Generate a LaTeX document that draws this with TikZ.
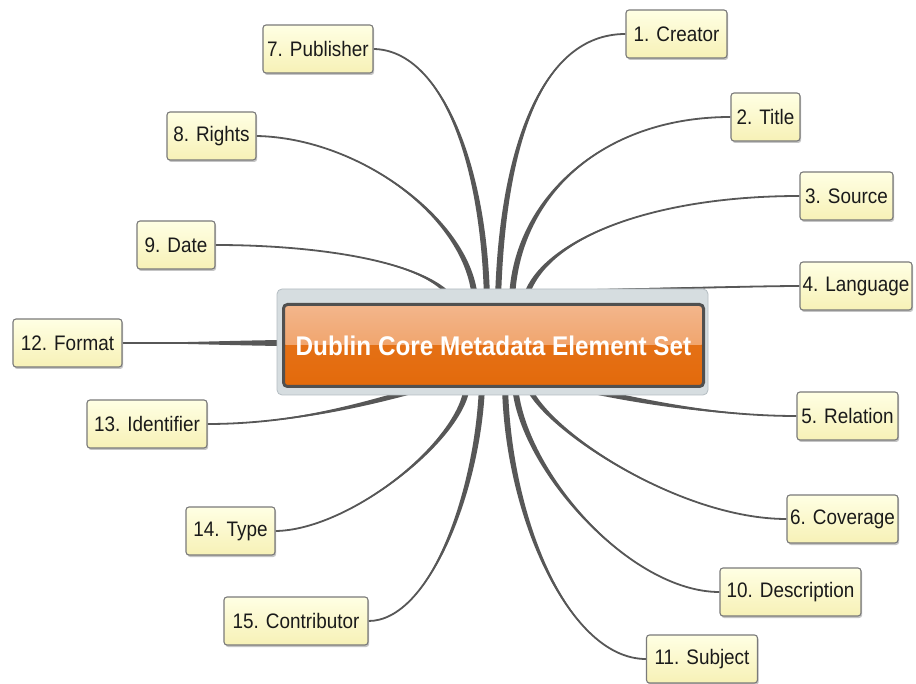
\documentclass[tikz,border=0pt]{standalone}
\usepackage{fontspec}
\setmainfont{Liberation Sans}[FakeStretch=0.9]
\usetikzlibrary{calc,shadows}
\pgfdeclarelayer{paper}
\pgfdeclarelayer{spokes}
\pgfsetlayers{paper,spokes,main}

\definecolor{spokecol}{HTML}{575757}
\definecolor{leaftop}{HTML}{FFFFE4}
\definecolor{leafbot}{HTML}{F7F1B6}
\definecolor{leafedge}{HTML}{7A7A7A}
\definecolor{leaftext}{HTML}{1A1A1A}
\definecolor{framefill}{HTML}{D6DDE0}
\definecolor{frameedge}{HTML}{B4BDC2}
\definecolor{hubrim}{HTML}{505050}
\definecolor{hublow}{HTML}{E36A0B}
\definecolor{hubtop}{HTML}{F3B68C}
\definecolor{hubmid}{HTML}{EE944F}

% tapered branch: #1 hub point, #2 hub-side control, #3 leaf-side control,
% #4 leaf anchor, #5 half-width of the branch at the hub
\newcommand\drawspoke[5]{%
  \fill[spokecol] (#4) .. controls (#3) and ($(#2)+#5$) .. ($(#1)+#5$)
    -- ($(#1)-#5$) .. controls ($(#2)-#5$) and (#3) .. (#4) -- cycle;
  \draw[spokecol, line width=1.8pt] (#4) .. controls (#3) and (#2) .. (#1);
}

\tikzset{
  leaf/.style={draw=leafedge, line width=1.1pt, rounded corners=3pt,
    top color=leaftop, bottom color=leafbot, text=leaftext,
    minimum height=48pt, inner xsep=0pt,
    font=\fontsize{21}{24}\selectfont,
    drop shadow={shadow xshift=1.2pt, shadow yshift=-2pt,
      fill=black!45, opacity=0.5}},
  framebox/.style={fill=framefill, draw=frameedge, line width=0.8pt,
    rounded corners=5pt, minimum width=431pt, minimum height=106pt},
  hubbox/.style={fill=hublow, draw=hubrim, line width=3pt,
    rounded corners=4pt, minimum width=420pt, minimum height=82pt,
    text=white, font=\bfseries\fontsize{27}{30}\selectfont,
    path picture={
      \fill[top color=hubtop, bottom color=hubmid]
        (path picture bounding box.north west) rectangle
        (path picture bounding box.east);
      \fill[top color=hublow!85!hubmid, bottom color=hublow]
        (path picture bounding box.west) rectangle
        (path picture bounding box.south east);}}
}

\begin{document}
\begin{tikzpicture}[x=1pt, y=-1pt]
\useasboundingbox (0,0) rectangle (916,684);
\begin{pgfonlayer}{paper}
  \fill[white] (0,0) rectangle (916,684);
\end{pgfonlayer}

% central topic
\node[framebox] (frame) at (492.5,342) {};
\node[hubbox] (hub) at (493.5,345.5) {Dublin Core Metadata Element Set};

% elements, right side
\node[leaf, minimum width=101pt] (cre) at (676.5,34)  {1. Creator};
\node[leaf, minimum width=69pt]  (tit) at (765.5,117) {2. Title};
\node[leaf, minimum width=93pt]  (src) at (846.5,196) {3. Source};
\node[leaf, minimum width=112pt] (lan) at (856,286)   {4. Language};
\node[leaf, minimum width=101pt] (rel) at (847.5,416) {5. Relation};
\node[leaf, minimum width=111pt] (cov) at (842.5,519) {6. Coverage};
\node[leaf, minimum width=141pt] (des) at (790.5,592) {10. Description};
\node[leaf, minimum width=111pt] (sub) at (702,659)   {11. Subject};

% elements, left side
\node[leaf, minimum width=110pt] (pub) at (318,49)    {7. Publisher};
\node[leaf, minimum width=89pt]  (rig) at (211.5,136) {8. Rights};
\node[leaf, minimum width=78pt]  (dat) at (176,245)   {9. Date};
\node[leaf, minimum width=109pt] (fmt) at (67.5,343)  {12. Format};
\node[leaf, minimum width=120pt] (ide) at (147,424)   {13. Identifier};
\node[leaf, minimum width=89pt]  (typ) at (230.5,531) {14. Type};
\node[leaf, minimum width=144pt] (con) at (296,621)   {15. Contributor};

% attachment points on the central topic
\coordinate (h9)  at (453,300);
\coordinate (h8)  at (475,300);
\coordinate (h7)  at (487,300);
\coordinate (h1)  at (498,300);
\coordinate (h2)  at (512,300);
\coordinate (h3)  at (525,300);
\coordinate (h4)  at (560,291);
\coordinate (h12) at (290,343);
\coordinate (h13) at (430,386);
\coordinate (h5)  at (570,386);
\coordinate (h14) at (467,386);
\coordinate (h15) at (482,386);
\coordinate (h11) at (505,386);
\coordinate (h10) at (515,386);
\coordinate (h6)  at (528,386);

\begin{pgfonlayer}{spokes}
  \drawspoke{h9}{430,262}{320,245}{dat.east}{(3,0)}
  \drawspoke{h8}{470,220}{360,138}{rig.east}{(3,0)}
  \drawspoke{h7}{484,160}{440,50}{pub.east}{(3,0)}
  \drawspoke{h1}{502,150}{540,34}{cre.west}{(3,0)}
  \drawspoke{h2}{515,200}{600,117}{tit.west}{(3,0)}
  \drawspoke{h3}{540,240}{650,196}{src.west}{(3,0)}
  \drawspoke{h4}{650,289}{760,286}{lan.west}{(0,1.2)}
  \drawspoke{h12}{250,343}{170,343}{fmt.east}{(0,3)}
  \drawspoke{h13}{380,400}{300,424}{ide.east}{(0,3)}
  \drawspoke{h5}{640,402}{720,416}{rel.west}{(0,3)}
  \drawspoke{h14}{462,440}{350,530}{typ.east}{(3,0)}
  \drawspoke{h15}{478,490}{430,621}{con.east}{(3,0)}
  \drawspoke{h11}{508,520}{570,659}{sub.west}{(3,0)}
  \drawspoke{h10}{522,470}{630,592}{des.west}{(3,0)}
  \drawspoke{h6}{545,430}{680,519}{cov.west}{(3,0)}
\end{pgfonlayer}
\end{tikzpicture}
\end{document}
